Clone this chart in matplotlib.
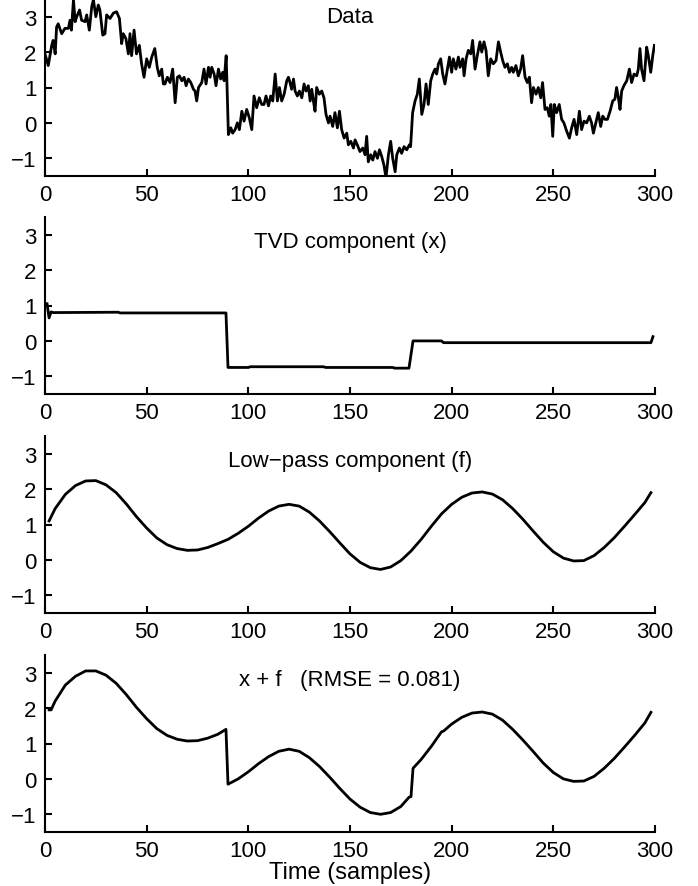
"""
TVD / low-pass decomposition of a noisy signal (four stacked panels).
"""

import matplotlib.pyplot as plt
import matplotlib.font_manager as fm

# ---- values ----
# noisy data (sample index, value)
data_n = [0, 1.6, 3.3, 4, 5, 5.7, 6.5, 8.2, 9.8, 11.5, 12.3, 13, 14, 14.8, 15.6, 17, 18, 19.7,
          20.5, 21.8, 23, 23.8, 25, 26.2, 27, 28.4, 29.5, 30.3, 32, 33.6, 35.2, 36.6, 37.7,
          38.5, 39.8, 41, 41.8, 42.6, 43.8, 45, 46.4, 47.5, 48.7, 50, 51.3, 52.5, 54, 55.2,
          56.2, 57.4, 58.2, 59, 60.2, 61.5, 62.8, 64, 65.1, 66.1, 67.3, 68.4, 69.4, 70.5,
          71.7, 73, 73.8, 74.6, 75.5, 77.1, 78.2, 79.2, 80.4, 81.2, 82, 83.2, 84.1, 85.3,
          86.4, 87.4, 88.1, 89.1, 90.2, 91.4, 92.3, 93.5, 94.6, 95.6, 96.8, 97.9, 99.2,
          100.5, 101.7, 102.8, 104.1, 105.4, 106.6, 107.7, 108.7, 109.9, 111, 112, 113.2,
          114.3, 115.3, 116.4, 117.6, 118.9, 119.7, 120.5, 121.3, 122.2, 123, 124.1, 125.1,
          126.3, 127.4, 128.4, 129.5, 130.4, 131.2, 132, 132.8, 133.6, 134.9, 136.1, 137.2,
          138.2, 139.4, 140.2, 141.5, 142.6, 143.8, 144.8, 145.9, 147.1, 148.4, 149.2,
          150.4, 151.7, 152.5, 153.6, 154.9, 156.3, 157.4, 158.2, 159, 160.2, 161.2, 162.3,
          163.5, 164.5, 165.6, 166.7, 167.7, 168.9, 170, 171, 172.2, 173, 174.3, 175.4,
          176.6, 177.9, 179.2, 179.8, 180.8, 182, 183.1, 184.1, 185.3, 186.4, 187.4, 188.5,
          189.7, 190.7, 191.8, 192.6, 193.5, 194.6, 195.6, 196.7, 197.9, 198.9, 200, 200.8,
          202.1, 203.3, 204.1, 205.4, 206.1, 207.1, 208.2, 209.4, 210.3, 211.5, 212.6,
          213.9, 214.8, 215.9, 216.9, 218, 219.2, 220.5, 221.8, 223, 224.1, 225.1, 226.2,
          227.4, 228.4, 229.5, 230.3, 231.6, 232.8, 233.9, 234.9, 236.1, 237.2, 238.2,
          239.3, 240.2, 241.5, 242.6, 243.8, 244.7, 245.9, 247, 248, 248.8, 249.7, 250.5,
          251.6, 252.9, 254.1, 255.2, 256.6, 257.9, 259, 260.2, 261.5, 262.8, 263.9, 265.1,
          266.4, 267.7, 268.8, 269.7, 270.9, 272.1, 273.3, 274.3, 275.4, 276.6, 277.9,
          279.2, 280.3, 281.1, 282, 282.8, 283.6, 284.7, 286.1, 287.4, 288.5, 289.7, 291,
          291.8, 292.6, 293.4, 294.6, 295.9, 296.7, 297.9, 298.9, 299.7]
data_v = [1.95, 1.62, 2.19, 2.33, 1.95, 2.71, 2.80, 2.52, 2.67, 2.67, 2.90, 2.62, 3.48, 2.86,
          3.00, 3.19, 2.90, 2.86, 3.05, 2.62, 3.29, 3.48, 3.00, 3.33, 3.19, 2.48, 2.52, 3.05,
          2.95, 3.10, 3.14, 2.95, 2.24, 2.52, 2.38, 1.95, 2.52, 1.90, 2.62, 1.95, 2.19, 1.67,
          1.29, 1.81, 1.57, 1.86, 2.10, 1.57, 1.33, 1.52, 1.10, 1.10, 1.29, 1.14, 1.52, 0.57,
          1.29, 1.33, 1.19, 1.29, 1.05, 1.24, 1.14, 0.95, 0.90, 0.62, 1.00, 1.14, 1.52, 1.10,
          1.57, 1.29, 1.57, 1.38, 1.05, 1.52, 1.24, 1.43, 1.19, 1.90, -0.33, -0.14, -0.29,
          -0.19, 0.00, -0.19, 0.33, 0.05, 0.38, 0.14, -0.19, 0.76, 0.43, 0.71, 0.52, 0.52,
          0.76, 0.48, 0.76, 0.62, 1.38, 0.62, 1.00, 0.62, 0.81, 1.19, 1.29, 1.14, 0.95, 1.24,
          0.90, 0.76, 0.90, 0.71, 1.10, 0.90, 1.05, 0.62, 0.95, 0.62, 0.33, 1.00, 0.81, 0.90,
          0.71, 0.24, 0.00, 0.19, -0.10, 0.29, -0.14, 0.33, -0.19, -0.43, -0.29, -0.62,
          -0.52, -0.71, -0.48, -0.62, -0.81, -0.71, -0.90, -0.38, -1.10, -0.90, -1.05, -0.81,
          -1.00, -0.76, -0.95, -1.19, -1.55, -0.90, -0.52, -1.00, -1.38, -0.90, -0.71, -0.86,
          -0.67, -0.76, -0.62, -0.67, 0.29, 0.62, 0.81, 1.24, 0.24, 0.52, 1.10, 0.52, 1.19,
          1.38, 1.52, 1.38, 1.67, 1.81, 1.38, 1.10, 1.52, 1.86, 1.43, 1.81, 1.52, 1.86, 1.57,
          1.81, 1.33, 1.81, 2.05, 1.95, 2.33, 1.52, 1.90, 2.29, 2.00, 2.29, 2.05, 1.33, 1.81,
          1.67, 1.76, 2.29, 2.00, 1.76, 1.57, 1.67, 1.43, 1.57, 1.43, 1.62, 1.33, 1.52, 1.90,
          1.29, 1.14, 1.29, 0.57, 1.00, 0.81, 1.00, 0.71, 1.14, 0.38, 0.43, 0.19, 0.52, -0.38,
          0.52, 0.29, 0.52, 0.10, 0.00, -0.24, -0.43, -0.14, 0.10, -0.33, 0.33, -0.19, 0.05,
          0.00, 0.19, 0.00, -0.29, 0.00, 0.29, -0.10, 0.19, 0.10, 0.10, 0.33, 0.62, 0.67,
          1.00, 0.71, 0.38, 0.90, 1.05, 1.19, 1.52, 1.14, 1.38, 1.33, 1.52, 2.10, 1.52, 1.19,
          2.14, 1.90, 1.43, 1.90, 2.19]

# TVD component (piecewise constant)
tvd_n = [1, 2, 3, 4, 36, 37, 89, 90, 100, 101, 137, 138, 171, 172, 179, 181, 195, 196, 298, 299]
tvd_v = [1.05, 0.65, 0.82, 0.80, 0.81, 0.79, 0.79, -0.75, -0.75, -0.73, -0.73, -0.75, -0.75,
         -0.77, -0.77, 0.00, 0.00, -0.05, -0.05, 0.12]

# low-pass component
lp_n = [2, 5, 10, 15, 20, 25, 30, 35, 40, 45, 50, 55, 60, 65, 70, 75, 80, 85, 90, 95, 100,
        105, 110, 115, 120, 125, 130, 135, 140, 145, 150, 155, 160, 165, 170, 175, 180, 185,
        190, 195, 200, 205, 210, 215, 220, 225, 230, 235, 240, 245, 250, 255, 260, 265, 270,
        275, 280, 285, 290, 295, 298]
lp_v = [1.10, 1.45, 1.85, 2.10, 2.23, 2.24, 2.12, 1.90, 1.58, 1.22, 0.90, 0.62, 0.43, 0.32,
        0.27, 0.28, 0.35, 0.46, 0.58, 0.75, 0.95, 1.18, 1.38, 1.52, 1.57, 1.52, 1.35, 1.10,
        0.80, 0.48, 0.17, -0.07, -0.22, -0.27, -0.20, -0.02, 0.25, 0.58, 0.95, 1.30, 1.57,
        1.77, 1.89, 1.92, 1.86, 1.70, 1.45, 1.15, 0.82, 0.50, 0.23, 0.05, -0.03, -0.02, 0.12,
        0.35, 0.63, 0.95, 1.28, 1.62, 1.90]

# x + f
sum_n = [2, 3, 5, 10, 15, 20, 25, 30, 35, 40, 45, 50, 55, 60, 65, 70, 75, 80, 85, 89, 90, 95,
         100, 105, 110, 115, 120, 125, 130, 135, 140, 145, 150, 155, 160, 165, 170, 175, 179,
         180, 181, 185, 190, 195, 196, 200, 205, 210, 215, 220, 225, 230, 235, 240, 245, 250,
         255, 260, 265, 270, 275, 280, 285, 290, 295, 298]
sum_v = [1.95, 1.95, 2.20, 2.65, 2.90, 3.05, 3.05, 2.93, 2.70, 2.38, 2.02, 1.70, 1.42, 1.23,
         1.12, 1.07, 1.08, 1.15, 1.26, 1.40, -0.15, 0.00, 0.20, 0.43, 0.63, 0.78, 0.84, 0.78,
         0.60, 0.35, 0.05, -0.27, -0.57, -0.80, -0.95, -1.00, -0.95, -0.78, -0.52, -0.50, 0.30,
         0.55, 0.92, 1.33, 1.35, 1.55, 1.74, 1.86, 1.89, 1.83, 1.66, 1.40, 1.10, 0.78, 0.45,
         0.18, 0.00, -0.07, -0.06, 0.07, 0.30, 0.58, 0.90, 1.23, 1.58, 1.88]

titles = ['Data', 'TVD component (x)', 'Low\u2212pass component (f)',
          'x + f   (RMSE = 0.081)']
series = [(data_n, data_v), (tvd_n, tvd_v), (lp_n, lp_v), (sum_n, sum_v)]

# font: narrow Helvetica look if available
names = {f.name for f in fm.fontManager.ttflist}
family = [f for f in ['Liberation Sans Narrow', 'Liberation Sans', 'DejaVu Sans'] if f in names]
plt.rcParams['font.family'] = family

fig = plt.figure(figsize=(6.98, 8.87), dpi=100)

left, width = 45 / 698, 610 / 698
tops_px = [0, 218, 437, 656]
height = 177 / 887

for i, ((n, v), title) in enumerate(zip(series, titles)):
    bottom = 1 - (tops_px[i] + 177) / 887
    ax = fig.add_axes([left, bottom, width, height])
    ax.plot(n, v, color='black', linewidth=2.0)
    ax.set_xlim(0, 300)
    ax.set_ylim(-1.5, 3.5)
    ax.set_xticks([0, 50, 100, 150, 200, 250, 300])
    ax.set_yticks([-1, 0, 1, 2, 3])
    ax.set_yticklabels(['\u22121', '0', '1', '2', '3'])
    ax.spines['top'].set_visible(False)
    ax.spines['right'].set_visible(False)
    ax.spines['left'].set_linewidth(1.5)
    ax.spines['bottom'].set_linewidth(1.5)
    ax.tick_params(direction='in', length=5, width=1.5, pad=6, labelsize=16)
    ax.text(150, 2.82 if i else 3.0, title, ha='center', va='center', fontsize=16)

# x label under the last panel
fig.text(left + width / 2, 1 - 873 / 887, 'Time (samples)', ha='center', va='center',
         fontsize=17)

fig.savefig('out.png', dpi=100)
